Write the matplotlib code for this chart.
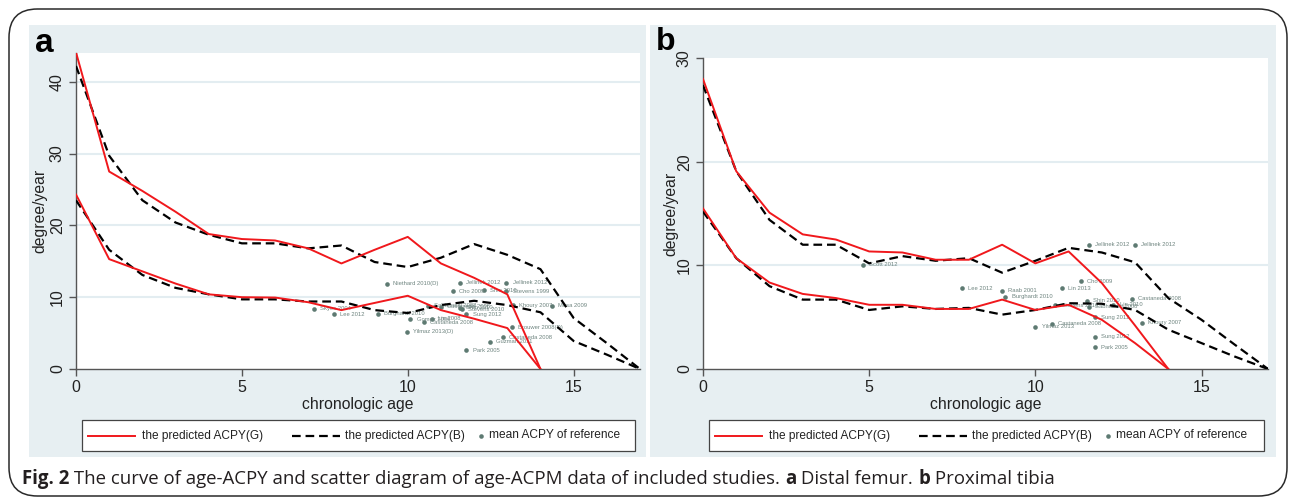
import matplotlib
matplotlib.use("Agg")
import matplotlib.pyplot as plt
from matplotlib.patches import FancyBboxPatch, Rectangle
from matplotlib.lines import Line2D

W, H = 1295, 504

ages_g = list(range(0, 15))
ages_b = list(range(0, 18))

# panel a: distal femur
a_girl_hi = [44.1, 27.5, 24.8, 21.9, 18.8, 18.1, 17.9, 16.8, 14.7, 16.6, 18.4, 14.7, 12.7, 10.4, 0]
a_girl_lo = [24.3, 15.3, 13.6, 11.9, 10.4, 10.0, 9.95, 9.3, 8.2, 9.2, 10.2, 8.2, 7.0, 5.7, 0]
a_boy_hi = [42.2, 29.7, 23.5, 20.4, 18.7, 17.5, 17.5, 16.8, 17.2, 14.9, 14.2, 15.5, 17.4, 15.9, 13.9, 7.1, 3.6, 0]
a_boy_lo = [23.5, 16.6, 13.1, 11.3, 10.4, 9.7, 9.7, 9.4, 9.4, 8.2, 7.8, 8.9, 9.5, 8.9, 7.9, 3.9, 2.0, 0]
a_ref_x = [9.37, 11.56, 12.97, 11.37, 12.3, 12.97, 13.16, 14.35, 7.16, 7.78, 9.09, 10.08, 10.73,
           10.48, 9.97, 10.6, 11.0, 11.56, 11.62, 11.77, 13.14, 12.86, 12.47, 11.77]
a_ref_y = [11.9, 12.0, 12.0, 10.8, 11.0, 10.8, 8.9, 8.8, 8.4, 7.6, 7.7, 6.9, 7.0,
           6.5, 5.2, 8.8, 8.7, 8.5, 8.3, 7.6, 5.8, 4.4, 3.8, 2.6]
a_ref_lab = ["Niethard 2010(D)", "Jellinek 2012", "Jellinek 2012", "Cho 2009", "Shin 2010",
             "Stevens 1999", "Khoury 2007", "Mesa 2009", "Skyes 2004", "Lee 2012",
             "Burghardt 2010", "Gomez 2006", "Lin 2008", "Castaneda 2008", "Yilmaz 2013(D)",
             "Sabharwal 2008", "Castaneda 2008", "Shin 2010", "Stevens 2010", "Sung 2012",
             "Brouwer 2008(D)", "Castaneda 2008", "Guzman 2011", "Park 2005"]

# panel b: proximal tibia
b_girl_hi = [28.0, 19.1, 15.1, 13.0, 12.5, 11.35, 11.25, 10.55, 10.55, 12.0, 10.2, 11.35, 8.3, 4.2, 0]
b_girl_lo = [15.5, 10.7, 8.35, 7.25, 6.85, 6.2, 6.2, 5.8, 5.8, 6.7, 5.7, 6.2, 4.75, 2.5, 0]
b_boy_hi = [27.4, 19.1, 14.4, 12.0, 12.0, 10.2, 10.9, 10.45, 10.7, 9.3, 10.45, 11.7, 11.25, 10.3, 6.85, 4.75, 2.35, 0]
b_boy_lo = [15.2, 10.7, 8.0, 6.7, 6.7, 5.7, 6.05, 5.8, 5.9, 5.25, 5.7, 6.35, 6.3, 5.7, 3.8, 2.5, 1.2, 0]
b_ref_x = [4.81, 11.6, 13.0, 11.38, 7.8, 9.0, 9.1, 10.8, 11.56, 12.9, 12.35, 10.6, 11.6,
           11.8, 13.2, 10.0, 10.5, 11.8, 11.8]
b_ref_y = [10.05, 12.0, 12.0, 8.45, 7.8, 7.55, 7.0, 7.8, 6.6, 6.8, 6.2, 6.15, 6.0,
           5.0, 4.45, 4.1, 4.35, 3.1, 2.1]
b_ref_lab = ["Scott 2012", "Jellinek 2012", "Jellinek 2012", "Cho 2009", "Lee 2012", "Raab 2001",
             "Burghardt 2010", "Lin 2013", "Shin 2010", "Castaneda 2008", "Lin 2010", "Stevens 2010",
             "Sabharwal 2008", "Sung 2012", "Khoury 2007", "Yilmaz 2013", "Castaneda 2008",
             "Sung 2012", "Park 2005"]

legend_labels = ["the predicted ACPY(G)", "the predicted ACPY(B)", "mean ACPY of reference"]

RED = "#f0181c"
REF = "#5e7a72"
REF_TXT = "#6f8580"
PANEL_BG = "#e7eff2"
GRID = "#e3edf1"
DASH = (0, (3.9, 2.2))

plt.rcParams["font.family"] = ["Liberation Sans", "DejaVu Sans"]

fig = plt.figure(figsize=(W / 100, H / 100), dpi=100)


def fx(x):
    return x / W


def fy(y):
    return 1 - y / H


def px_axes(l, t, r, b):
    ax = fig.add_axes([fx(l), fy(b), (r - l) / W, (b - t) / H])
    ax.set_zorder(2)
    return ax


# outer rounded frame
fig.patches.append(FancyBboxPatch((fx(9), fy(496)), fx(1278), (496 - 9) / H,
                                  boxstyle="round,pad=0,rounding_size=0.022",
                                  transform=fig.transFigure, fc="white", ec="#2a2a2a",
                                  lw=1.1, mutation_aspect=W / H, zorder=-2))

# grey graph regions behind both panels
for l, r in [(29, 646), (650, 1276)]:
    fig.patches.append(Rectangle((fx(l), fy(457)), (r - l) / W, (457 - 25) / H,
                                 transform=fig.transFigure, fc=PANEL_BG, ec="none", zorder=-1))


def draw_panel(ax, ymax, yticks, g_hi, g_lo, b_hi, b_lo, rx, ry, rlab, ylab_px):
    ax.set_facecolor("white")
    ax.plot(ages_b, b_hi, color="black", lw=1.6, ls=DASH, zorder=3)
    ax.plot(ages_b, b_lo, color="black", lw=1.6, ls=DASH, zorder=3)
    ax.plot(ages_g, g_hi, color=RED, lw=1.4, zorder=4)
    ax.plot(ages_g, g_lo, color=RED, lw=1.4, zorder=4)
    ax.scatter(rx, ry, s=11, color=REF, zorder=2, linewidths=0)
    for x, y, t in zip(rx, ry, rlab):
        ax.annotate(t, (x, y), xytext=(4.5, 0), textcoords="offset points",
                    va="center", ha="left", fontsize=4.2, color=REF_TXT, zorder=2)
    ax.set_xlim(0, 17)
    ax.set_ylim(0, ymax)
    ax.set_xticks([0, 5, 10, 15])
    ax.set_yticks(yticks)
    ax.set_yticklabels([str(v) for v in yticks], rotation=90, va="center")
    for v in yticks[1:]:
        if v < ymax:
            ax.axhline(v, color=GRID, lw=1.5, zorder=1)
    for s in ["top", "right"]:
        ax.spines[s].set_visible(False)
    for s in ["left", "bottom"]:
        ax.spines[s].set_color("#555555")
        ax.spines[s].set_linewidth(1.0)
    ax.tick_params(axis="both", length=5, width=1, color="#555555", labelsize=11.5,
                   labelcolor="#222222", pad=3)
    bb = ax.get_position()
    w_px, h_px = bb.width * W, bb.height * H
    ax.set_xlabel("chronologic age", fontsize=11.3, color="#222222")
    ax.xaxis.set_label_coords(0.5, -(404 - 369) / h_px)
    ax.xaxis.label.set_va("center")
    ax.set_ylabel("degree/year", fontsize=11.3, color="#222222")
    ax.yaxis.set_label_coords(-ylab_px / w_px, 0.5)
    ax.yaxis.label.set_va("center")


ax_a = px_axes(76, 52.7, 640, 369)
draw_panel(ax_a, 44.05, [0, 10, 20, 30, 40], a_girl_hi, a_girl_lo, a_boy_hi, a_boy_lo,
           a_ref_x, a_ref_y, a_ref_lab, 36)
ax_b = px_axes(703, 58.3, 1268, 369)
draw_panel(ax_b, 30, [0, 10, 20, 30], b_girl_hi, b_girl_lo, b_boy_hi, b_boy_lo,
           b_ref_x, b_ref_y, b_ref_lab, 32)

fig.text(fx(35), fy(52), "a", fontsize=24, fontweight="bold", va="baseline", ha="left")
fig.text(fx(656), fy(50), "b", fontsize=23, fontweight="bold", va="baseline", ha="left")


def draw_legend(l, r, t=420, b=451):
    fig.patches.append(Rectangle((fx(l), fy(b)), (r - l) / W, (b - t) / H,
                                 transform=fig.transFigure, fc="white", ec="#444444",
                                 lw=0.9, zorder=3))
    yc = fy((t + b) / 2)
    fig.lines.append(Line2D([fx(l + 6), fx(l + 53)], [yc, yc], color=RED, lw=1.4,
                            transform=fig.transFigure, zorder=4))
    fig.lines.append(Line2D([fx(l + 210), fx(l + 258)], [yc, yc], color="black", lw=1.6,
                            ls=DASH, transform=fig.transFigure, zorder=4))
    fig.lines.append(Line2D([fx(l + 399)], [yc], color=REF, marker="o", ls="none",
                            markersize=3.3, markeredgewidth=0,
                            transform=fig.transFigure, zorder=4))
    for xo, lab in zip([60, 263, 407], legend_labels):
        fig.text(fx(l + xo), yc, lab, fontsize=8.6, color="#222222",
                 va="center", ha="left", zorder=5)


draw_legend(82, 635)
draw_legend(709, 1264)

# caption with mixed bold / regular runs
fig.canvas.draw()
renderer = fig.canvas.get_renderer()
runs = [("Fig. 2", "bold"),
        (" The curve of age-ACPY and scatter diagram of age-ACPM data of included studies. ", "normal"),
        ("a", "bold"), (" Distal femur. ", "normal"), ("b", "bold"), (" Proximal tibia", "normal")]
x = fx(22)
for txt, wt in runs:
    t = fig.text(x, fy(479), txt, fontsize=13.4, fontweight=wt, family="Open Sans",
                 color="#231f20", va="center", ha="left")
    bb = t.get_window_extent(renderer=renderer)
    x = bb.x1 / W

fig.savefig("out.png", dpi=100)
